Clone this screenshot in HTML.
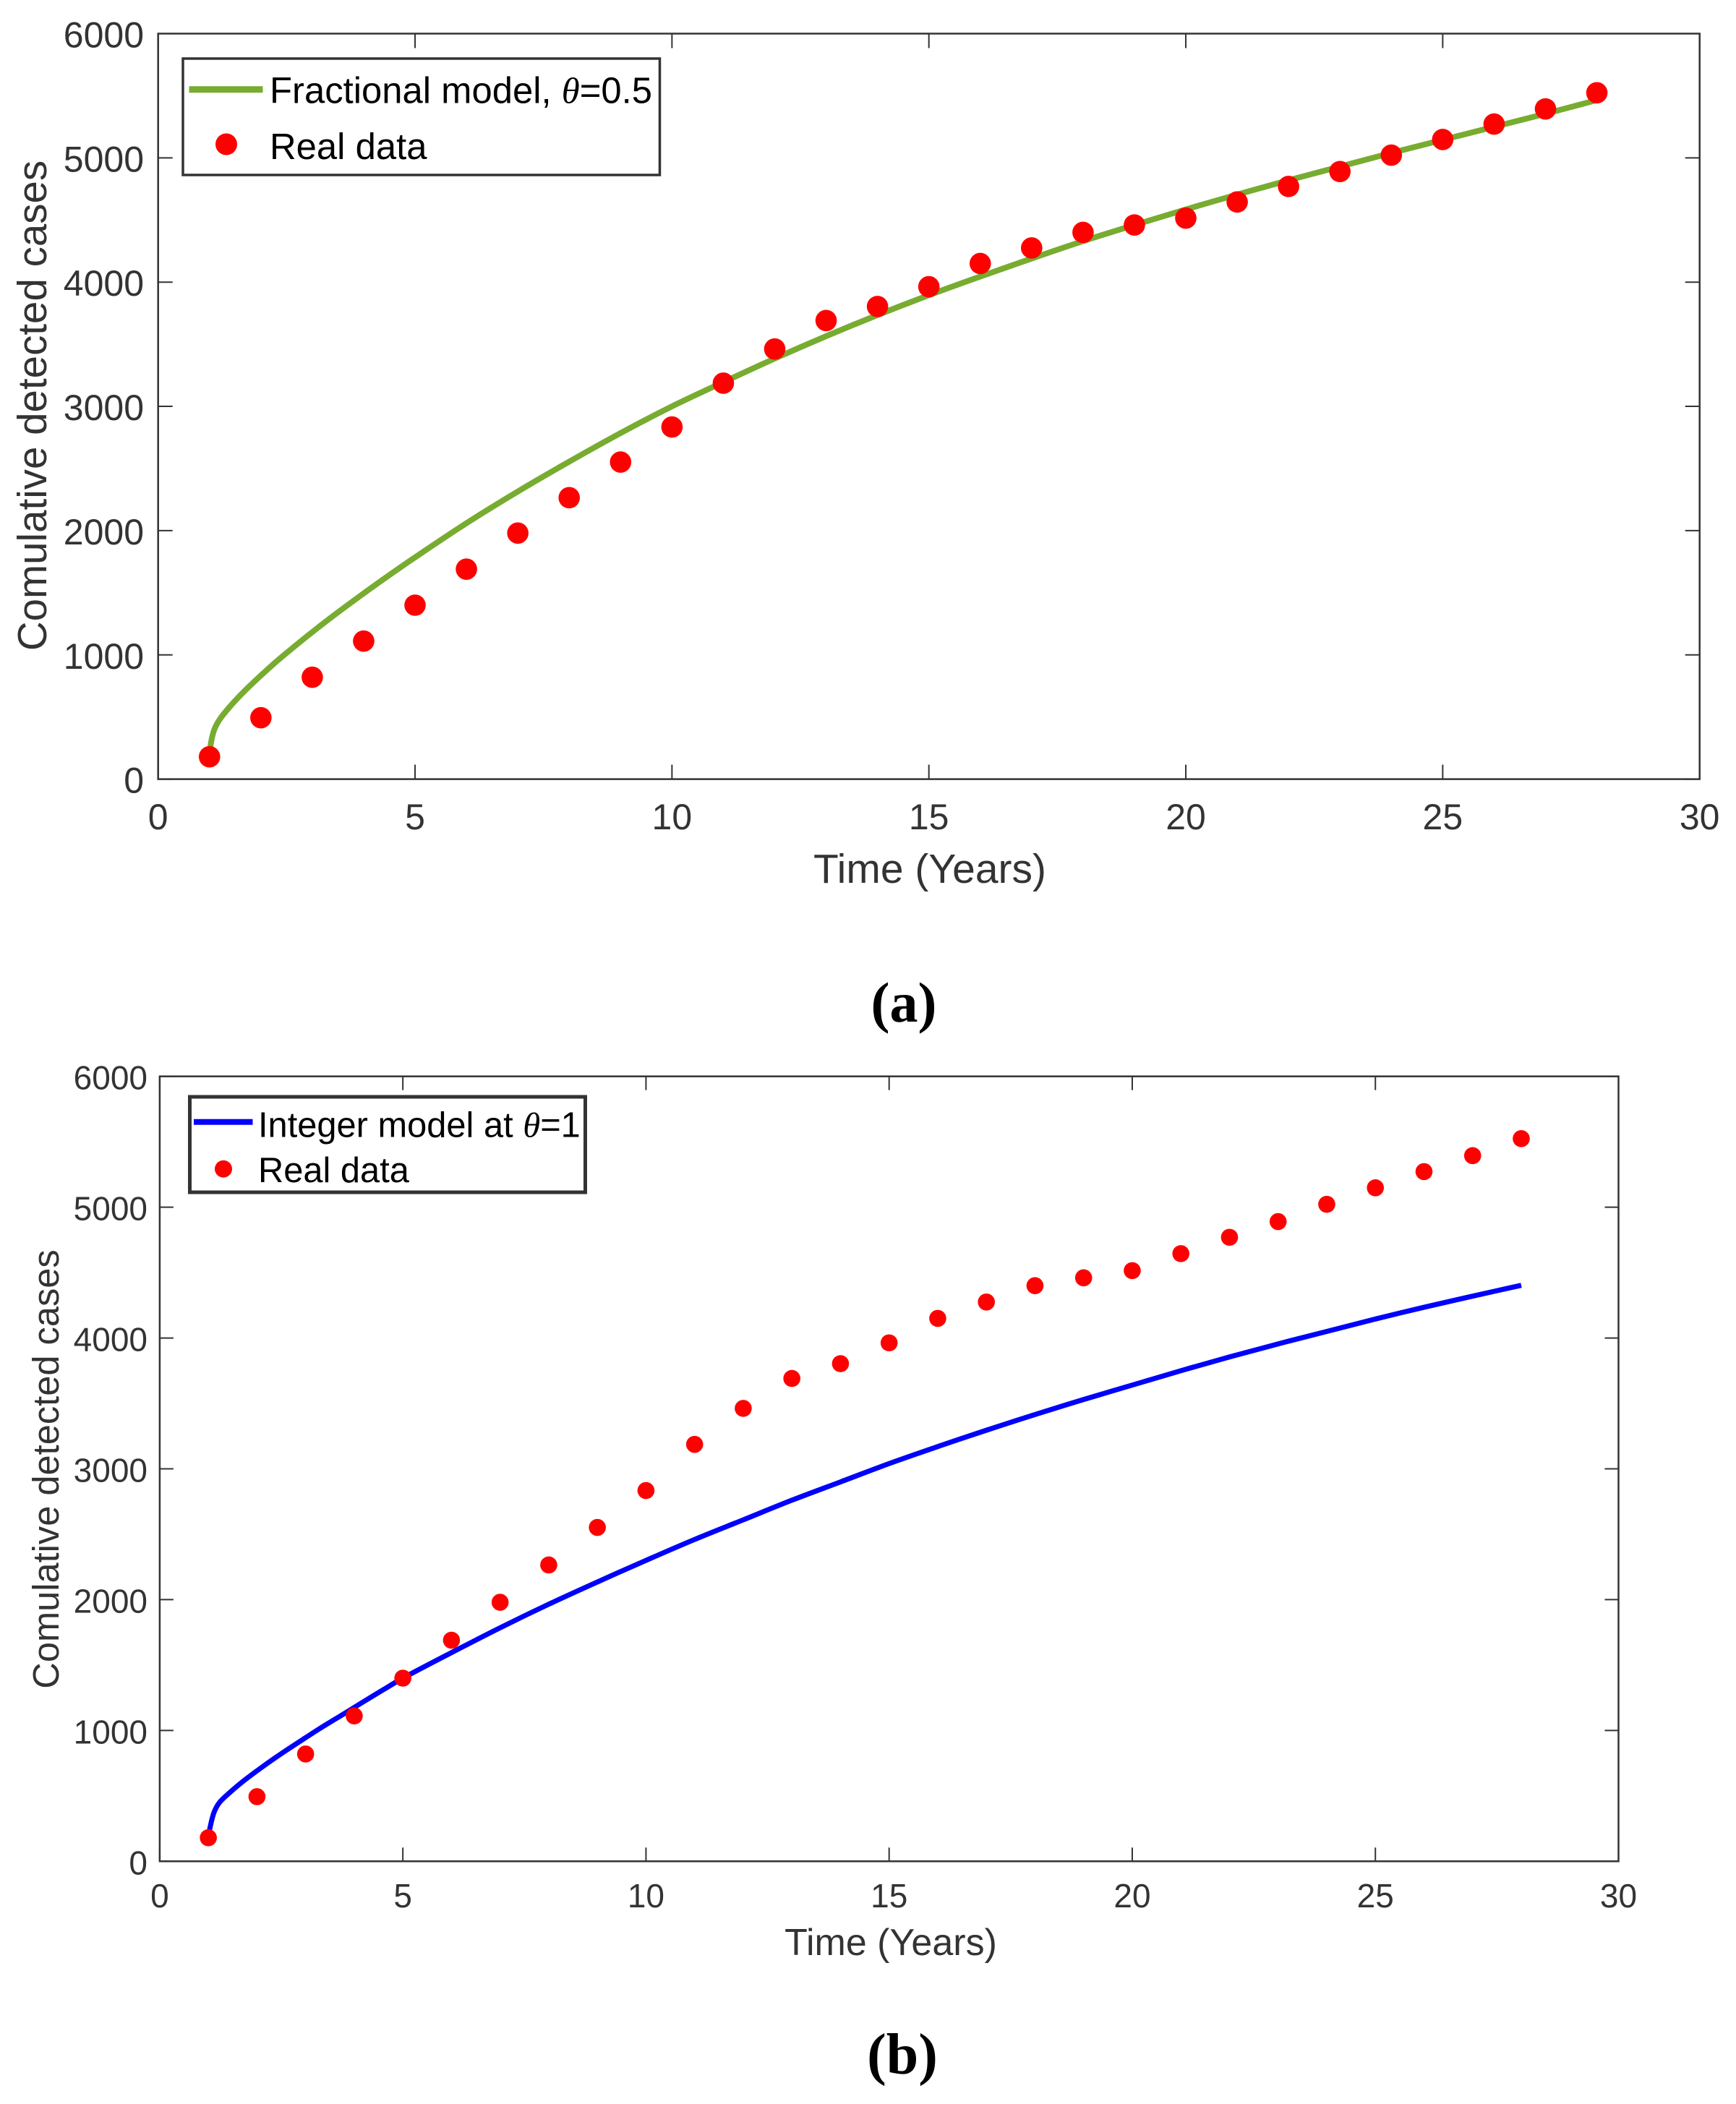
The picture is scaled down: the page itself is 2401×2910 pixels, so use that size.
<!DOCTYPE html>
<html lang="en">
<head>
<meta charset="utf-8">
<title>Cumulative detected cases: model vs real data</title>
<style>
html,body{margin:0;padding:0;background:#fff;}
svg{display:block;}
text{font-family:"Liberation Sans",sans-serif;}
.tick{fill:#333;}
.axis-title{fill:#333;}
.legend-text{fill:#000;}
.caption{font-family:"Liberation Serif",serif;font-weight:bold;fill:#000;}
.theta{font-family:"Liberation Serif",serif;font-style:italic;}
</style>
</head>
<body>
<svg id="figure" xmlns="http://www.w3.org/2000/svg" width="2401" height="2910" viewBox="0 0 2401 2910">
  <rect x="0" y="0" width="2401" height="2910" fill="#ffffff"/>
  <g id="panel-a"></g>
  <g id="panel-b"></g>

  <g>
    <rect x="253" y="81" width="659.5" height="161" fill="#fff" stroke="#333" stroke-width="3.5"/>
    <line x1="261.5" y1="123.7" x2="363.5" y2="123.7" stroke="#77ac30" stroke-width="9"/>
    <text class="legend-text" x="373" y="142.7" font-size="50.8">Fractional model, <tspan class="theta">θ</tspan>=0.5</text>
    <circle cx="313" cy="199.5" r="15" fill="#ff0000"/>
    <text class="legend-text" x="373" y="220" font-size="50.8">Real data</text>
  </g>

  <g>
    <rect x="262.5" y="1517" width="547" height="132" fill="#fff" stroke="#333" stroke-width="5"/>
    <line x1="268" y1="1551.7" x2="349.5" y2="1551.7" stroke="#0000ff" stroke-width="8"/>
    <text class="legend-text" x="357" y="1572.7" font-size="48.8">Integer model at <tspan class="theta">θ</tspan>=1</text>
    <circle cx="309" cy="1616.7" r="12" fill="#ff0000"/>
    <text class="legend-text" x="357" y="1635" font-size="48.8">Real data</text>
  </g>

  <text class="caption" x="1250" y="1413" font-size="78" text-anchor="middle">(a)</text>
  <text class="caption" x="1248" y="2868" font-size="80" text-anchor="middle">(b)</text>
</svg>

<script>
// Shared tick labels
const xTickLabels = [0, 5, 10, 15, 20, 25, 30];
const yTickLabels = [0, 1000, 2000, 3000, 4000, 5000, 6000];

// Real data
const realYears = [1,2,3,4,5,6,7,8,9,10,11,12,13,14,15,16,17,18,19,20,21,22,23,24,25,26,27,28];
const realCases = [180,494,820,1111,1400,1690,1980,2265,2552,2834,3187,3462,3691,3804,3963,4150,4275,4400,4460,4515,4645,4770,4890,5022,5148,5272,5394,5524];

// Fractional model, theta = 0.5
const fractionalYears = [1,1.03,1.097,1.214,1.425,1.66,1.94,2.27,2.6,3.02,3.54,4,4.33,5,6,7,8,9,10,11,12,13,14,15,16,17,18,19,20,21,22,23,24,25,26,27,28];
const fractionalCases = [180,296,403,490,597,700,811,935,1050,1190,1355,1495,1593,1785,2060,2315,2555,2785,3000,3195,3385,3565,3735,3895,4045,4190,4330,4460,4585,4705,4820,4930,5040,5145,5250,5355,5465];

// Integer model, theta = 1
const integerYears = [1,1.038,1.117,1.226,1.4,1.72,2.12,2.51,2.91,3.31,3.8,4.2,4.6,5,6,7,8,9,10,11,12,13,14,15,16,17,18,19,20,21,22,23,24,25,26,27,28];
const integerCases = [180,263,374,448,512,613,724,825,923,1019,1130,1222,1312,1400,1595,1785,1965,2135,2300,2460,2610,2760,2900,3040,3170,3295,3415,3530,3640,3750,3855,3955,4050,4145,4235,4320,4403];

const SVG_NS = 'http://www.w3.org/2000/svg';

function make(tag, parent, attrs) {
  const el = document.createElementNS(SVG_NS, tag);
  for (const k in attrs) el.setAttribute(k, attrs[k]);
  parent.appendChild(el);
  return el;
}

// Smooth path through screen points, tangents scaled by segment length
function smoothPath(p) {
  function tangent(i) {
    const a = p[Math.max(i - 1, 0)];
    const b = p[Math.min(i + 1, p.length - 1)];
    const dx = b[0] - a[0];
    const dy = b[1] - a[1];
    const len = Math.hypot(dx, dy) || 1;
    return [dx / len, dy / len];
  }
  let d = 'M' + p[0][0].toFixed(2) + ' ' + p[0][1].toFixed(2);
  for (let i = 0; i < p.length - 1; i++) {
    const seg = Math.hypot(p[i + 1][0] - p[i][0], p[i + 1][1] - p[i][1]) / 3;
    const t0 = tangent(i);
    const t1 = tangent(i + 1);
    d += 'C' + (p[i][0] + t0[0] * seg).toFixed(2) + ' ' + (p[i][1] + t0[1] * seg).toFixed(2) + ' ' +
         (p[i + 1][0] - t1[0] * seg).toFixed(2) + ' ' + (p[i + 1][1] - t1[1] * seg).toFixed(2) + ' ' +
         p[i + 1][0].toFixed(2) + ' ' + p[i + 1][1].toFixed(2);
  }
  return d;
}

function drawPanel(cfg) {
  const root = document.getElementById(cfg.id);
  const xScale = function (v) { return cfg.left + (v - 0) / 30 * (cfg.right - cfg.left); };
  const yScale = function (v) { return cfg.bottom - (v - 0) / 6000 * (cfg.bottom - cfg.top); };

  // Model curve
  const pts = cfg.modelX.map(function (t, i) {
    return [xScale(t), yScale(cfg.modelY[i])];
  });
  const curve = make('path', root, {
    d: smoothPath(pts), fill: 'none', stroke: cfg.color,
    'stroke-width': cfg.lineWidth, 'stroke-linejoin': 'round'
  });
  
  

  // Real-data markers
  realYears.forEach(function (t, i) {
    const dot = make('circle', root, {
      cx: xScale(t), cy: yScale(realCases[i]), r: cfg.markerR, fill: '#ff0000'
    });
    
    
  });

  // Axes box
  const box = make('rect', root, {
    x: cfg.left, y: cfg.top,
    width: cfg.right - cfg.left, height: cfg.bottom - cfg.top,
    fill: 'none', stroke: '#333', 'stroke-width': cfg.axisWidth
  });
  
  

  // X ticks and labels
  xTickLabels.forEach(function (v) {
    const x = xScale(v);
    const t1 = make('line', root, { x1: x, x2: x, y1: cfg.bottom, y2: cfg.bottom - cfg.tickLen, stroke: '#333', 'stroke-width': 2 });
    
    
    const t2 = make('line', root, { x1: x, x2: x, y1: cfg.top, y2: cfg.top + cfg.tickLen, stroke: '#333', 'stroke-width': 2 });
    
    
    const label = make('text', root, { x: x, y: cfg.xTickBase, 'font-size': cfg.tickFont, 'text-anchor': 'middle', class: 'tick' });
    label.textContent = v;
    
    
  });

  // Y ticks and labels
  yTickLabels.forEach(function (v) {
    const y = yScale(v);
    const t1 = make('line', root, { x1: cfg.left, x2: cfg.left + cfg.tickLen, y1: y, y2: y, stroke: '#333', 'stroke-width': 2 });
    
    
    const t2 = make('line', root, { x1: cfg.right, x2: cfg.right - cfg.tickLen, y1: y, y2: y, stroke: '#333', 'stroke-width': 2 });
    
    
    const label = make('text', root, { x: cfg.yTickRight, y: y + cfg.yTickShift, 'font-size': cfg.tickFont, 'text-anchor': 'end', class: 'tick' });
    label.textContent = v;
    
    
  });

  // Axis titles
  const xt = make('text', root, { x: cfg.xTitleX, y: cfg.xTitleY, 'font-size': cfg.xTitleFont, 'text-anchor': 'middle', class: 'axis-title' });
  xt.textContent = 'Time (Years)';
  
  

  const yt = make('text', root, {
    x: 0, y: 0, 'font-size': cfg.yTitleFont, 'text-anchor': 'middle', class: 'axis-title',
    transform: 'translate(' + cfg.yTitleX + ' ' + cfg.yTitleY + ') rotate(-90)'
  });
  yt.textContent = 'Comulative detected cases';
  
  
}

drawPanel({
  id: 'panel-a', left: 218.7, right: 2350.7, top: 46.5, bottom: 1077.6,
  modelX: fractionalYears, modelY: fractionalCases, color: '#77ac30',
  lineWidth: 8, markerR: 14.8, axisWidth: 2.5, tickLen: 20,
  tickFont: 50, xTickBase: 1147, yTickRight: 199, yTickShift: 19,
  xTitleFont: 57, yTitleFont: 56.5, xTitleX: 1286, xTitleY: 1221, yTitleX: 64, yTitleY: 561
});

drawPanel({
  id: 'panel-b', left: 220.9, right: 2238.5, top: 1488.7, bottom: 2574.3,
  modelX: integerYears, modelY: integerCases, color: '#0000ff',
  lineWidth: 7, markerR: 11.8, axisWidth: 2.5, tickLen: 19,
  tickFont: 46, xTickBase: 2638, yTickRight: 204, yTickShift: 18,
  xTitleFont: 52, yTitleFont: 50.6, xTitleX: 1232, xTitleY: 2704, yTitleX: 81, yTitleY: 2032
});
</script>
</body>
</html>
